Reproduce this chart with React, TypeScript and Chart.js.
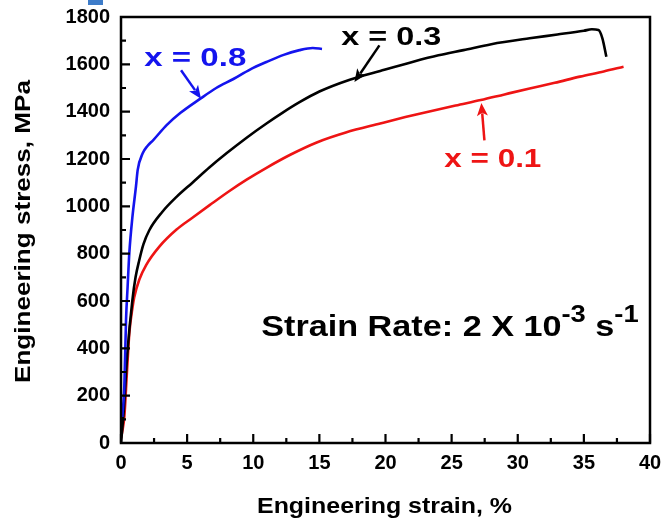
import React, { useEffect, useRef } from "react";
import { Chart, registerables } from "chart.js";

Chart.register(...registerables);

// ---- data (engineering strain %, engineering stress MPa) ----
const strain08 = [0.1, 0.25, 0.38, 0.5, 0.63, 0.86, 1.13, 1.26, 1.64, 2.0, 2.44, 3.45, 4.5, 6.0, 7.2, 8.5, 9.75, 11.0, 12.3, 13.5, 14.5, 15.2];
const stress08 = [110, 237, 519, 660, 803, 953, 1083, 1153, 1224, 1255, 1280, 1343, 1395, 1455, 1500, 1538, 1578, 1610, 1640, 1660, 1669, 1665];

const strain03 = [0, 0.2, 0.48, 0.86, 1.1, 1.38, 1.7, 2.14, 3.1, 4.2, 5.4, 6.7, 8.0, 9.5, 11.0, 12.2, 13.5, 15.0, 17.3, 19.6, 22.1, 24.0, 25.9, 28.0, 30.9, 33.0, 35.0, 35.6, 36.1, 36.4, 36.7];
const stress03 = [0, 130, 380, 603, 700, 772, 840, 899, 975, 1040, 1100, 1165, 1225, 1290, 1350, 1395, 1440, 1485, 1535, 1572, 1611, 1638, 1660, 1685, 1710, 1726, 1742, 1748, 1745, 1710, 1632];

const strain01 = [0, 0.1, 0.25, 0.45, 0.63, 0.88, 1.0, 1.38, 1.9, 2.9, 4.2, 5.4, 6.7, 8.2, 9.5, 11.0, 12.8, 14.8, 17.0, 19.6, 21.5, 23.4, 25.3, 27.2, 29.0, 30.9, 32.8, 34.7, 36.5, 38.0];
const stress01 = [20, 50, 110, 300, 464, 576, 616, 690, 752, 830, 902, 952, 1005, 1065, 1113, 1163, 1218, 1270, 1312, 1350, 1377, 1402, 1426, 1449, 1473, 1498, 1522, 1548, 1570, 1590];

const seriesLabels = ["x = 0.8", "x = 0.3", "x = 0.1"];
const seriesColors = ["#1414ee", "#000000", "#ee1414"];

const xTitle = "Engineering strain, %";
const yTitle = "Engineering stress, MPa";

const FONT = 'Arial, "Liberation Sans", sans-serif';

function pts(xs: number[], ys: number[]) {
  return xs.map((v, i) => ({ x: v, y: ys[i] }));
}

function fitText(ctx: CanvasRenderingContext2D, text: string, x: number, y: number, size: number, targetW: number, color: string, align: CanvasTextAlign = "left", rot = 0) {
  ctx.save();
  ctx.font = `bold ${size}px ${FONT}`;
  const w = ctx.measureText(text).width;
  ctx.translate(x, y);
  ctx.rotate(rot);
  ctx.scale(targetW / w, 1);
  ctx.fillStyle = color;
  ctx.textAlign = align;
  ctx.textBaseline = "alphabetic";
  ctx.fillText(text, 0, 0);
  ctx.restore();
}

function arrow(ctx: CanvasRenderingContext2D, x1: number, y1: number, x2: number, y2: number, color: string) {
  const ang = Math.atan2(y2 - y1, x2 - x1);
  const hl = 13, hw = 5.5;
  ctx.save();
  ctx.strokeStyle = color;
  ctx.fillStyle = color;
  ctx.lineWidth = 2.5;
  ctx.beginPath();
  ctx.moveTo(x1, y1);
  ctx.lineTo(x2 - Math.cos(ang) * hl * 0.8, y2 - Math.sin(ang) * hl * 0.8);
  ctx.stroke();
  ctx.beginPath();
  ctx.moveTo(x2, y2);
  ctx.lineTo(x2 - Math.cos(ang) * hl - Math.sin(ang) * hw, y2 - Math.sin(ang) * hl + Math.cos(ang) * hw);
  ctx.lineTo(x2 - Math.cos(ang) * hl * 0.75, y2 - Math.sin(ang) * hl * 0.75);
  ctx.lineTo(x2 - Math.cos(ang) * hl + Math.sin(ang) * hw, y2 - Math.sin(ang) * hl - Math.cos(ang) * hw);
  ctx.closePath();
  ctx.fill();
  ctx.restore();
}

const overlay = {
  id: "overlay",
  afterDatasetsDraw(chart: any) {
    const { ctx, chartArea: a, scales } = chart;
    const xs = scales.x, ys = scales.y;
    const X = (v: number) => xs.getPixelForValue(v);
    const Y = (v: number) => ys.getPixelForValue(v);
    ctx.save();
    // frame
    ctx.strokeStyle = "#000";
    ctx.lineWidth = 2.5;
    ctx.strokeRect(a.left, a.top, a.right - a.left, a.bottom - a.top);
    // inward ticks
    ctx.lineWidth = 2.2;
    ctx.beginPath();
    for (let v = 0; v <= 40; v += 2.5) {
      const p = X(v);
      const len = v % 5 === 0 ? 9 : 5;
      ctx.moveTo(p, a.bottom);
      ctx.lineTo(p, a.bottom - len);
    }
    for (let v = 0; v <= 1800; v += 100) {
      const p = Y(v);
      const len = v % 200 === 0 ? 9 : 5;
      ctx.moveTo(a.left, p);
      ctx.lineTo(a.left + len, p);
    }
    ctx.stroke();
    ctx.restore();

    // axis titles
    fitText(ctx, xTitle, 384.5, 513, 22, 255, "#000", "center");
    fitText(ctx, yTitle, 30, 231.5, 22, 303, "#000", "center", -Math.PI / 2);

    // series annotations
    fitText(ctx, seriesLabels[0], X(1.76), Y(1595), 25, 102, seriesColors[0]);
    arrow(ctx, X(4.54), Y(1575), X(6.05), Y(1455), seriesColors[0]);
    fitText(ctx, seriesLabels[1], X(16.66), Y(1680), 26, 100, seriesColors[1]);
    arrow(ctx, X(19.54), Y(1680), X(17.65), Y(1525), seriesColors[1]);
    fitText(ctx, seriesLabels[2], X(24.45), Y(1165), 26, 97, seriesColors[2]);
    arrow(ctx, X(27.48), Y(1279), X(27.25), Y(1437), seriesColors[2]);

    // strain rate note with superscripts
    ctx.save();
    const sx = 1.14;
    ctx.translate(X(10.6), Y(451));
    ctx.scale(sx, 1);
    ctx.fillStyle = "#000";
    ctx.textBaseline = "alphabetic";
    ctx.textAlign = "left";
    let cx = 0;
    const seg = (t: string, size: number, dy: number) => {
      ctx.font = `bold ${size}px ${FONT}`;
      ctx.fillText(t, cx, dy);
      cx += ctx.measureText(t).width;
    };
    seg("Strain Rate: 2 X 10", 30, 0);
    seg("-3", 24, -14);
    seg(" s", 30, 0);
    seg("-1", 24, -14);
    ctx.restore();

    // small blue mark at the top edge (cropped panel label)
    ctx.save();
    ctx.fillStyle = "#3d7cc9";
    ctx.fillRect(88, 0, 15, 5);
    ctx.restore();
  },
};

export default function App() {
  const ref = useRef<HTMLCanvasElement>(null);
  useEffect(() => {
    const tickFont = { family: FONT, size: 20, weight: "bold" as const };
    const chart = new Chart(ref.current!, {
      type: "scatter",
      data: {
        datasets: [
          { label: seriesLabels[0], data: pts(strain08, stress08), borderColor: seriesColors[0] },
          { label: seriesLabels[1], data: pts(strain03, stress03), borderColor: seriesColors[1] },
          { label: seriesLabels[2], data: pts(strain01, stress01), borderColor: seriesColors[2] },
        ].map((d) => ({
          ...d,
          showLine: true,
          pointRadius: 0,
          borderWidth: 2.6,
          cubicInterpolationMode: "monotone" as const,
          fill: false,
        })),
      },
      options: {
        responsive: false,
        animation: false,
        events: [],
        layout: { padding: { left: 0, top: 17, right: 13, bottom: 0 } },
        plugins: { legend: { display: false }, tooltip: { enabled: false } },
        scales: {
          x: {
            type: "linear",
            min: 0,
            max: 40,
            grid: { display: false, drawTicks: false },
            border: { display: false },
            ticks: { stepSize: 5, autoSkip: false, maxRotation: 0, font: tickFont, color: "#000", padding: 8, callback: (v: any) => String(v) },
            afterFit: (s: any) => { s.height = 76; s.paddingLeft = 0; s.paddingRight = 0; },
          },
          y: {
            type: "linear",
            min: 0,
            max: 1800,
            grid: { display: false, drawTicks: false },
            border: { display: false },
            ticks: { stepSize: 200, autoSkip: false, font: tickFont, color: "#000", padding: 11, callback: (v: any) => String(v) },
            afterFit: (s: any) => { s.width = 121; s.paddingTop = 0; s.paddingBottom = 0; },
          },
        },
      },
      plugins: [overlay],
    } as any);
    return () => chart.destroy();
  }, []);
  return (
    <div style={{ position: "fixed", left: 0, top: 0, width: 663, height: 519, background: "#fff" }}>
      <canvas ref={ref} width={663} height={519} style={{ display: "block" }} />
    </div>
  );
}
